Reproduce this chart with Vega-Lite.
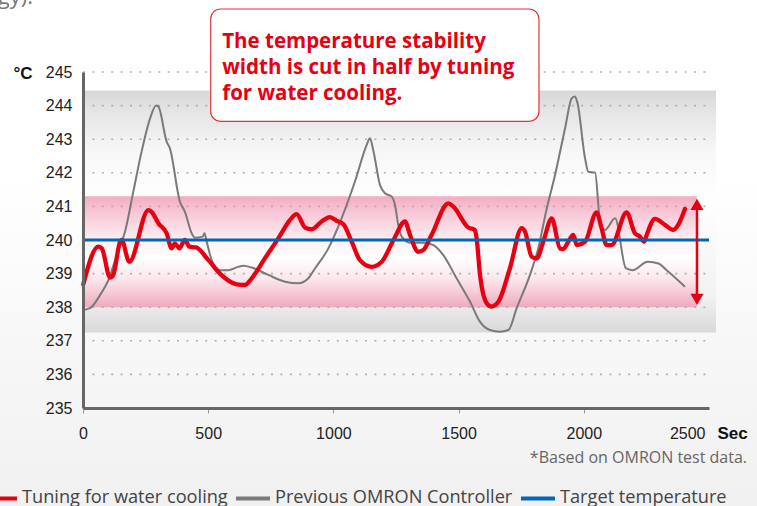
{
  "$schema": "https://vega.github.io/schema/vega-lite/v6.json",
  "autosize": {"type": "none"},
  "padding": {"left": 83, "top": 72, "right": 48, "bottom": 98},
  "width": 626,
  "height": 336,
  "background": "#ffffff",
  "config": {
    "view": {"stroke": null},
    "legend": {
      "orient": "none",
      "legendX": -102,
      "legendY": 407,
      "direction": "horizontal",
      "symbolType": "stroke",
      "symbolSize": 1156,
      "symbolStrokeWidth": 4,
      "labelFont": "Open Sans",
      "labelFontSize": 18.2,
      "labelColor": "#444444",
      "labelOffset": 3,
      "labelLimit": 400,
      "columnPadding": 0,
      "title": null
    }
  },
  "datasets": {
    "gridlines": [
      {"g": 236}, {"g": 237}, {"g": 238}, {"g": 239}, {"g": 240},
      {"g": 241}, {"g": 242}, {"g": 243}, {"g": 244}, {"g": 245}
    ],
    "series": [
      {"t": 1, "temp": 237.92, "series": "Previous OMRON Controller"},
      {"t": 28, "temp": 237.97, "series": "Previous OMRON Controller"},
      {"t": 68, "temp": 238.36, "series": "Previous OMRON Controller"},
      {"t": 101, "temp": 238.8, "series": "Previous OMRON Controller"},
      {"t": 135, "temp": 239.55, "series": "Previous OMRON Controller"},
      {"t": 168, "temp": 240.25, "series": "Previous OMRON Controller"},
      {"t": 201, "temp": 241.44, "series": "Previous OMRON Controller"},
      {"t": 234, "temp": 242.63, "series": "Previous OMRON Controller"},
      {"t": 268, "temp": 243.62, "series": "Previous OMRON Controller"},
      {"t": 292, "temp": 244.0, "series": "Previous OMRON Controller"},
      {"t": 301, "temp": 243.97, "series": "Previous OMRON Controller"},
      {"t": 334, "temp": 242.93, "series": "Previous OMRON Controller"},
      {"t": 347, "temp": 242.73, "series": "Previous OMRON Controller"},
      {"t": 387, "temp": 241.14, "series": "Previous OMRON Controller"},
      {"t": 407, "temp": 240.84, "series": "Previous OMRON Controller"},
      {"t": 434, "temp": 240.2, "series": "Previous OMRON Controller"},
      {"t": 447, "temp": 240.07, "series": "Previous OMRON Controller"},
      {"t": 478, "temp": 240.1, "series": "Previous OMRON Controller"},
      {"t": 485, "temp": 240.2, "series": "Previous OMRON Controller"},
      {"t": 494, "temp": 239.95, "series": "Previous OMRON Controller"},
      {"t": 514, "temp": 239.4, "series": "Previous OMRON Controller"},
      {"t": 547, "temp": 239.1, "series": "Previous OMRON Controller"},
      {"t": 580, "temp": 239.1, "series": "Previous OMRON Controller"},
      {"t": 620, "temp": 239.2, "series": "Previous OMRON Controller"},
      {"t": 640, "temp": 239.23, "series": "Previous OMRON Controller"},
      {"t": 674, "temp": 239.18, "series": "Previous OMRON Controller"},
      {"t": 740, "temp": 238.96, "series": "Previous OMRON Controller"},
      {"t": 807, "temp": 238.76, "series": "Previous OMRON Controller"},
      {"t": 860, "temp": 238.71, "series": "Previous OMRON Controller"},
      {"t": 900, "temp": 238.86, "series": "Previous OMRON Controller"},
      {"t": 927, "temp": 239.16, "series": "Previous OMRON Controller"},
      {"t": 980, "temp": 239.75, "series": "Previous OMRON Controller"},
      {"t": 1033, "temp": 240.65, "series": "Previous OMRON Controller"},
      {"t": 1086, "temp": 241.74, "series": "Previous OMRON Controller"},
      {"t": 1133, "temp": 242.83, "series": "Previous OMRON Controller"},
      {"t": 1146, "temp": 243.03, "series": "Previous OMRON Controller"},
      {"t": 1159, "temp": 242.68, "series": "Previous OMRON Controller"},
      {"t": 1186, "temp": 241.64, "series": "Previous OMRON Controller"},
      {"t": 1206, "temp": 241.39, "series": "Previous OMRON Controller"},
      {"t": 1233, "temp": 241.29, "series": "Previous OMRON Controller"},
      {"t": 1246, "temp": 241.04, "series": "Previous OMRON Controller"},
      {"t": 1259, "temp": 240.45, "series": "Previous OMRON Controller"},
      {"t": 1273, "temp": 240.1, "series": "Previous OMRON Controller"},
      {"t": 1306, "temp": 239.92, "series": "Previous OMRON Controller"},
      {"t": 1359, "temp": 239.92, "series": "Previous OMRON Controller"},
      {"t": 1399, "temp": 239.85, "series": "Previous OMRON Controller"},
      {"t": 1439, "temp": 239.55, "series": "Previous OMRON Controller"},
      {"t": 1492, "temp": 238.86, "series": "Previous OMRON Controller"},
      {"t": 1546, "temp": 238.16, "series": "Previous OMRON Controller"},
      {"t": 1585, "temp": 237.57, "series": "Previous OMRON Controller"},
      {"t": 1625, "temp": 237.32, "series": "Previous OMRON Controller"},
      {"t": 1665, "temp": 237.27, "series": "Previous OMRON Controller"},
      {"t": 1699, "temp": 237.32, "series": "Previous OMRON Controller"},
      {"t": 1732, "temp": 237.97, "series": "Previous OMRON Controller"},
      {"t": 1785, "temp": 238.96, "series": "Previous OMRON Controller"},
      {"t": 1818, "temp": 239.75, "series": "Previous OMRON Controller"},
      {"t": 1852, "temp": 240.94, "series": "Previous OMRON Controller"},
      {"t": 1885, "temp": 241.93, "series": "Previous OMRON Controller"},
      {"t": 1925, "temp": 243.32, "series": "Previous OMRON Controller"},
      {"t": 1952, "temp": 244.22, "series": "Previous OMRON Controller"},
      {"t": 1965, "temp": 244.27, "series": "Previous OMRON Controller"},
      {"t": 1975, "temp": 244.07, "series": "Previous OMRON Controller"},
      {"t": 2005, "temp": 242.43, "series": "Previous OMRON Controller"},
      {"t": 2018, "temp": 242.03, "series": "Previous OMRON Controller"},
      {"t": 2045, "temp": 242.01, "series": "Previous OMRON Controller"},
      {"t": 2065, "temp": 240.55, "series": "Previous OMRON Controller"},
      {"t": 2085, "temp": 240.3, "series": "Previous OMRON Controller"},
      {"t": 2125, "temp": 240.65, "series": "Previous OMRON Controller"},
      {"t": 2168, "temp": 239.16, "series": "Previous OMRON Controller"},
      {"t": 2195, "temp": 239.1, "series": "Previous OMRON Controller"},
      {"t": 2255, "temp": 239.35, "series": "Previous OMRON Controller"},
      {"t": 2298, "temp": 239.3, "series": "Previous OMRON Controller"},
      {"t": 2331, "temp": 239.1, "series": "Previous OMRON Controller"},
      {"t": 2404, "temp": 238.61, "series": "Previous OMRON Controller"},

      {"t": 1, "temp": 238.68, "series": "Tuning for water cooling"},
      {"t": 61, "temp": 239.8, "series": "Tuning for water cooling"},
      {"t": 75, "temp": 239.75, "series": "Tuning for water cooling"},
      {"t": 108, "temp": 238.88, "series": "Tuning for water cooling"},
      {"t": 121, "temp": 238.96, "series": "Tuning for water cooling"},
      {"t": 148, "temp": 239.95, "series": "Tuning for water cooling"},
      {"t": 154, "temp": 240.0, "series": "Tuning for water cooling"},
      {"t": 185, "temp": 239.35, "series": "Tuning for water cooling"},
      {"t": 261, "temp": 240.89, "series": "Tuning for water cooling"},
      {"t": 274, "temp": 240.84, "series": "Tuning for water cooling"},
      {"t": 301, "temp": 240.5, "series": "Tuning for water cooling"},
      {"t": 334, "temp": 240.2, "series": "Tuning for water cooling"},
      {"t": 354, "temp": 239.75, "series": "Tuning for water cooling"},
      {"t": 367, "temp": 239.9, "series": "Tuning for water cooling"},
      {"t": 385, "temp": 239.75, "series": "Tuning for water cooling"},
      {"t": 407, "temp": 240.0, "series": "Tuning for water cooling"},
      {"t": 425, "temp": 239.8, "series": "Tuning for water cooling"},
      {"t": 451, "temp": 239.78, "series": "Tuning for water cooling"},
      {"t": 501, "temp": 239.4, "series": "Tuning for water cooling"},
      {"t": 547, "temp": 239.0, "series": "Tuning for water cooling"},
      {"t": 614, "temp": 238.68, "series": "Tuning for water cooling"},
      {"t": 647, "temp": 238.66, "series": "Tuning for water cooling"},
      {"t": 674, "temp": 238.86, "series": "Tuning for water cooling"},
      {"t": 727, "temp": 239.46, "series": "Tuning for water cooling"},
      {"t": 780, "temp": 240.05, "series": "Tuning for water cooling"},
      {"t": 827, "temp": 240.6, "series": "Tuning for water cooling"},
      {"t": 853, "temp": 240.77, "series": "Tuning for water cooling"},
      {"t": 887, "temp": 240.37, "series": "Tuning for water cooling"},
      {"t": 913, "temp": 240.32, "series": "Tuning for water cooling"},
      {"t": 953, "temp": 240.55, "series": "Tuning for water cooling"},
      {"t": 986, "temp": 240.68, "series": "Tuning for water cooling"},
      {"t": 1013, "temp": 240.57, "series": "Tuning for water cooling"},
      {"t": 1040, "temp": 240.47, "series": "Tuning for water cooling"},
      {"t": 1073, "temp": 239.95, "series": "Tuning for water cooling"},
      {"t": 1106, "temp": 239.4, "series": "Tuning for water cooling"},
      {"t": 1153, "temp": 239.2, "series": "Tuning for water cooling"},
      {"t": 1193, "temp": 239.35, "series": "Tuning for water cooling"},
      {"t": 1240, "temp": 240.0, "series": "Tuning for water cooling"},
      {"t": 1286, "temp": 240.55, "series": "Tuning for water cooling"},
      {"t": 1306, "temp": 240.15, "series": "Tuning for water cooling"},
      {"t": 1339, "temp": 239.65, "series": "Tuning for water cooling"},
      {"t": 1359, "temp": 239.7, "series": "Tuning for water cooling"},
      {"t": 1392, "temp": 240.15, "series": "Tuning for water cooling"},
      {"t": 1459, "temp": 241.09, "series": "Tuning for water cooling"},
      {"t": 1479, "temp": 240.99, "series": "Tuning for water cooling"},
      {"t": 1539, "temp": 240.37, "series": "Tuning for water cooling"},
      {"t": 1565, "temp": 240.3, "series": "Tuning for water cooling"},
      {"t": 1572, "temp": 240.05, "series": "Tuning for water cooling"},
      {"t": 1585, "temp": 239.0, "series": "Tuning for water cooling"},
      {"t": 1612, "temp": 238.12, "series": "Tuning for water cooling"},
      {"t": 1632, "temp": 238.02, "series": "Tuning for water cooling"},
      {"t": 1659, "temp": 238.16, "series": "Tuning for water cooling"},
      {"t": 1705, "temp": 239.16, "series": "Tuning for water cooling"},
      {"t": 1752, "temp": 240.35, "series": "Tuning for water cooling"},
      {"t": 1765, "temp": 240.25, "series": "Tuning for water cooling"},
      {"t": 1792, "temp": 239.5, "series": "Tuning for water cooling"},
      {"t": 1812, "temp": 239.45, "series": "Tuning for water cooling"},
      {"t": 1838, "temp": 239.95, "series": "Tuning for water cooling"},
      {"t": 1872, "temp": 240.64, "series": "Tuning for water cooling"},
      {"t": 1905, "temp": 239.75, "series": "Tuning for water cooling"},
      {"t": 1918, "temp": 239.73, "series": "Tuning for water cooling"},
      {"t": 1938, "temp": 239.95, "series": "Tuning for water cooling"},
      {"t": 1958, "temp": 240.15, "series": "Tuning for water cooling"},
      {"t": 1972, "temp": 239.85, "series": "Tuning for water cooling"},
      {"t": 2005, "temp": 239.95, "series": "Tuning for water cooling"},
      {"t": 2051, "temp": 240.82, "series": "Tuning for water cooling"},
      {"t": 2071, "temp": 240.35, "series": "Tuning for water cooling"},
      {"t": 2091, "temp": 239.85, "series": "Tuning for water cooling"},
      {"t": 2111, "temp": 239.85, "series": "Tuning for water cooling"},
      {"t": 2171, "temp": 240.82, "series": "Tuning for water cooling"},
      {"t": 2204, "temp": 240.2, "series": "Tuning for water cooling"},
      {"t": 2224, "temp": 240.1, "series": "Tuning for water cooling"},
      {"t": 2241, "temp": 239.95, "series": "Tuning for water cooling"},
      {"t": 2251, "temp": 240.15, "series": "Tuning for water cooling"},
      {"t": 2284, "temp": 240.63, "series": "Tuning for water cooling"},
      {"t": 2324, "temp": 240.45, "series": "Tuning for water cooling"},
      {"t": 2357, "temp": 240.3, "series": "Tuning for water cooling"},
      {"t": 2377, "temp": 240.45, "series": "Tuning for water cooling"},
      {"t": 2404, "temp": 240.92, "series": "Tuning for water cooling"},

      {"t": 0, "temp": 240, "series": "Target temperature"},
      {"t": 2500, "temp": 240, "series": "Target temperature"}
    ]
  },
  "layer": [
    {
      "data": {"values": [{}]},
      "mark": {"type": "rect", "fill": {"gradient": "linear", "x1": 0, "y1": 0, "x2": 0, "y2": 1, "stops": [{"offset": 0, "color": "#ffffff"}, {"offset": 0.35, "color": "#ffffff"}, {"offset": 1, "color": "#f0f0f0"}]}},
      "encoding": {
        "x": {
          "datum": -400, "type": "quantitative",
          "scale": {"domain": [0, 2500], "nice": false, "zero": false},
          "axis": {
            "zindex": 1,
            "values": [0, 500, 1000, 1500, 2000, 2500],
            "tickCount": 6,
            "format": "d",
            "grid": false,
            "title": "Sec",
            "titleFont": "Liberation Sans",
            "titleFontSize": 17,
            "titleFontWeight": "bold",
            "titleColor": "#111111",
            "titleX": 634,
            "titleY": 30,
            "titleAlign": "left",
            "titleBaseline": "alphabetic",
            "labelFont": "Liberation Sans",
            "labelFontSize": 16,
            "labelColor": "#222222",
            "labelPadding": 12,
            "labelAlign": {"condition": {"test": "datum.value == 2500", "value": "right"}, "value": "center"},
            "labelOffset": {"condition": {"test": "datum.value == 2500", "value": -4}, "value": 0},
            "labelFlush": false,
            "labelOverlap": false,
            "domainColor": "#666666",
            "domainWidth": 3,
            "tickColor": "#999999",
            "tickWidth": 1,
            "tickSize": 5,
            "tickOpacity": {"condition": {"test": "datum.value == 2500", "value": 0}, "value": 1}
          }
        },
        "x2": {"datum": 2800},
        "y": {
          "datum": 247.3, "type": "quantitative",
          "scale": {"domain": [235, 245], "nice": false, "zero": false},
          "axis": {
            "zindex": 1,
            "values": [235, 236, 237, 238, 239, 240, 241, 242, 243, 244, 245],
            "tickCount": 11,
            "format": "d",
            "grid": false,
            "ticks": false,
            "title": "°C",
            "titleFont": "Liberation Sans",
            "titleFontSize": 17,
            "titleFontWeight": "bold",
            "titleColor": "#111111",
            "titleAngle": 0,
            "titleX": -70,
            "titleY": 6,
            "titleAlign": "left",
            "titleBaseline": "alphabetic",
            "labelFont": "Liberation Sans",
            "labelFontSize": 16,
            "labelColor": "#222222",
            "labelPadding": 11,
            "labelOverlap": false,
            "labelFlush": false,
            "domainColor": "#666666",
            "domainWidth": 3
          }
        },
        "y2": {"datum": 231.9}
      }
    },
    {
      "data": {"values": [{}]},
      "mark": {"type": "rect", "fill": {"gradient": "linear", "x1": 0, "y1": 0, "x2": 0, "y2": 1, "stops": [{"offset": 0, "color": "#d6d7d7"}, {"offset": 0.08, "color": "#e4e4e4"}, {"offset": 0.25, "color": "#f7f7f7"}, {"offset": 0.45, "color": "#ffffff"}, {"offset": 0.85, "color": "#f2f2f2"}, {"offset": 1, "color": "#d9d9d9"}]}},
      "encoding": {
        "x": {"datum": 0, "type": "quantitative"},
        "x2": {"datum": 2528},
        "y": {"datum": 244.45, "type": "quantitative"},
        "y2": {"datum": 237.25}
      }
    },
    {
      "data": {"values": [{}]},
      "mark": {"type": "rect", "fill": {"gradient": "linear", "x1": 0, "y1": 0, "x2": 0, "y2": 1, "stops": [{"offset": 0, "color": "#f4acc1"}, {"offset": 0.12, "color": "#f7c2d1"}, {"offset": 0.4, "color": "#fdf0f3"}, {"offset": 0.55, "color": "#ffffff"}, {"offset": 0.75, "color": "#fbe6eb"}, {"offset": 1, "color": "#efaabd"}]}},
      "encoding": {
        "x": {"datum": 0, "type": "quantitative"},
        "x2": {"datum": 2452},
        "y": {"datum": 241.3, "type": "quantitative"},
        "y2": {"datum": 238.0}
      }
    },
    {
      "data": {"name": "gridlines"},
      "mark": {"type": "rule", "color": "#b0b0b0", "strokeWidth": 1.6, "strokeDash": [2, 7.4]},
      "encoding": {
        "y": {"field": "g", "type": "quantitative"},
        "x": {"datum": 0, "type": "quantitative"},
        "x2": {"datum": 2500}
      }
    },
    {
      "data": {"name": "series"},
      "transform": [{"filter": "datum.series == 'Previous OMRON Controller'"}],
      "mark": {"type": "line", "interpolate": "monotone", "strokeWidth": 2},
      "encoding": {
        "x": {"field": "t", "type": "quantitative"},
        "y": {"field": "temp", "type": "quantitative"},
        "color": {"field": "series", "type": "nominal", "scale": {"domain": ["Tuning for water cooling", "Previous OMRON Controller", "Target temperature"], "range": ["#e60012", "#7a7a7a", "#0068b7"]}}
      }
    },
    {
      "data": {"name": "series"},
      "transform": [{"filter": "datum.series == 'Tuning for water cooling'"}],
      "mark": {"type": "line", "interpolate": "monotone", "strokeWidth": 4.3, "strokeJoin": "round", "strokeCap": "round"},
      "encoding": {
        "x": {"field": "t", "type": "quantitative"},
        "y": {"field": "temp", "type": "quantitative"},
        "color": {"field": "series", "type": "nominal", "scale": {"domain": ["Tuning for water cooling", "Previous OMRON Controller", "Target temperature"], "range": ["#e60012", "#7a7a7a", "#0068b7"]}}
      }
    },
    {
      "data": {"name": "series"},
      "transform": [{"filter": "datum.series == 'Target temperature'"}],
      "mark": {"type": "line", "strokeWidth": 3},
      "encoding": {
        "x": {"field": "t", "type": "quantitative"},
        "y": {"field": "temp", "type": "quantitative"},
        "color": {"field": "series", "type": "nominal", "scale": {"domain": ["Tuning for water cooling", "Previous OMRON Controller", "Target temperature"], "range": ["#e60012", "#7a7a7a", "#0068b7"]}}
      }
    },
    {
      "data": {"values": [{}]},
      "mark": {"type": "rule", "color": "#e60012", "strokeWidth": 2.5},
      "encoding": {
        "x": {"datum": 2452, "type": "quantitative"},
        "y": {"datum": 241.06, "type": "quantitative"},
        "y2": {"datum": 238.23}
      }
    },
    {
      "data": {"values": [{}]},
      "mark": {"type": "point", "shape": "triangle-up", "filled": true, "opacity": 1, "color": "#e60012", "size": 170},
      "encoding": {
        "x": {"datum": 2452, "type": "quantitative"},
        "y": {"datum": 241.06, "type": "quantitative"}
      }
    },
    {
      "data": {"values": [{}]},
      "mark": {"type": "point", "shape": "triangle-down", "filled": true, "opacity": 1, "color": "#e60012", "size": 170},
      "encoding": {
        "x": {"datum": 2452, "type": "quantitative"},
        "y": {"datum": 238.23, "type": "quantitative"}
      }
    },
    {
      "data": {"values": [{}]},
      "mark": {"type": "rect", "fill": "#ffffff", "stroke": "#e8303d", "strokeWidth": 1.2, "cornerRadius": 10},
      "encoding": {
        "x": {"datum": 510, "type": "quantitative"},
        "x2": {"datum": 1821},
        "y": {"datum": 246.875, "type": "quantitative"},
        "y2": {"datum": 243.53}
      }
    },
    {
      "data": {"values": [{"note": ["The temperature stability", "width is cut in half by tuning", "for water cooling."]}]},
      "mark": {"type": "text", "font": "Open Sans", "fontWeight": "bold", "fontSize": 20.5, "color": "#e60012", "align": "left", "baseline": "alphabetic", "lineHeight": 25.8},
      "encoding": {
        "x": {"datum": 556, "type": "quantitative"},
        "y": {"datum": 245.705, "type": "quantitative"},
        "text": {"field": "note"}
      }
    },
    {
      "data": {"values": [{"note": "*Based on OMRON test data."}]},
      "mark": {"type": "text", "font": "Open Sans", "fontSize": 16, "color": "#666666", "align": "right", "baseline": "alphabetic"},
      "encoding": {
        "x": {"datum": 2652, "type": "quantitative"},
        "y": {"datum": 233.363, "type": "quantitative"},
        "text": {"field": "note"}
      }
    },
    {
      "data": {"values": [{"note": "gy)."}]},
      "mark": {"type": "text", "font": "Open Sans", "fontSize": 22, "color": "#777777", "align": "left", "baseline": "alphabetic"},
      "encoding": {
        "x": {"datum": -340, "type": "quantitative"},
        "y": {"datum": 247.02, "type": "quantitative"},
        "text": {"field": "note"}
      }
    }
  ]
}
